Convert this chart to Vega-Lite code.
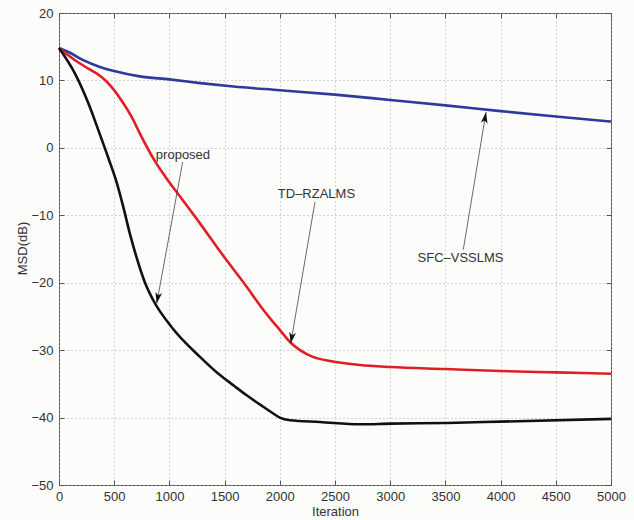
{
  "$schema": "https://vega.github.io/schema/vega-lite/v6.json",
  "width": 552,
  "height": 472,
  "autosize": "none",
  "padding": {"left": 59, "top": 13, "right": 23, "bottom": 35},
  "background": "#fcfcfa",
  "config": {
    "view": {"stroke": "#555", "strokeWidth": 1},
    "axis": {
      "labelFont": "Liberation Sans",
      "titleFont": "Liberation Sans",
      "labelFontSize": 13,
      "titleFontSize": 13,
      "labelColor": "#333",
      "titleColor": "#333",
      "titleFontWeight": "normal",
      "gridColor": "#aaa",
      "gridDash": [1, 3],
      "gridWidth": 1,
      "tickColor": "#555",
      "tickSize": -5,
      "domain": false,
      "labelFlush": false,
      "labelOverlap": false,
      "format": "d"
    }
  },
  "datasets": {
    "curves": [
      {"series": "SFC-VSSLMS", "iter": 0, "msd": 14.8},
      {"series": "SFC-VSSLMS", "iter": 100, "msd": 14.1},
      {"series": "SFC-VSSLMS", "iter": 220, "msd": 13.0},
      {"series": "SFC-VSSLMS", "iter": 370, "msd": 12.0},
      {"series": "SFC-VSSLMS", "iter": 500, "msd": 11.4},
      {"series": "SFC-VSSLMS", "iter": 730, "msd": 10.6},
      {"series": "SFC-VSSLMS", "iter": 1000, "msd": 10.15},
      {"series": "SFC-VSSLMS", "iter": 1280, "msd": 9.6},
      {"series": "SFC-VSSLMS", "iter": 1580, "msd": 9.1},
      {"series": "SFC-VSSLMS", "iter": 2000, "msd": 8.55},
      {"series": "SFC-VSSLMS", "iter": 2500, "msd": 7.9},
      {"series": "SFC-VSSLMS", "iter": 3000, "msd": 7.1},
      {"series": "SFC-VSSLMS", "iter": 3500, "msd": 6.3},
      {"series": "SFC-VSSLMS", "iter": 4000, "msd": 5.45},
      {"series": "SFC-VSSLMS", "iter": 4500, "msd": 4.65},
      {"series": "SFC-VSSLMS", "iter": 5000, "msd": 3.9},
      {"series": "TD-RZALMS", "iter": 0, "msd": 14.8},
      {"series": "TD-RZALMS", "iter": 145, "msd": 13.0},
      {"series": "TD-RZALMS", "iter": 266, "msd": 11.75},
      {"series": "TD-RZALMS", "iter": 386, "msd": 10.5},
      {"series": "TD-RZALMS", "iter": 477, "msd": 9.0},
      {"series": "TD-RZALMS", "iter": 568, "msd": 7.0},
      {"series": "TD-RZALMS", "iter": 658, "msd": 4.6},
      {"series": "TD-RZALMS", "iter": 749, "msd": 1.6},
      {"series": "TD-RZALMS", "iter": 870, "msd": -2.0},
      {"series": "TD-RZALMS", "iter": 960, "msd": -4.2},
      {"series": "TD-RZALMS", "iter": 1100, "msd": -7.3},
      {"series": "TD-RZALMS", "iter": 1277, "msd": -11.2},
      {"series": "TD-RZALMS", "iter": 1470, "msd": -15.6},
      {"series": "TD-RZALMS", "iter": 1700, "msd": -20.6},
      {"series": "TD-RZALMS", "iter": 1850, "msd": -24.0},
      {"series": "TD-RZALMS", "iter": 2000, "msd": -27.0},
      {"series": "TD-RZALMS", "iter": 2099, "msd": -28.9},
      {"series": "TD-RZALMS", "iter": 2183, "msd": -30.0},
      {"series": "TD-RZALMS", "iter": 2300, "msd": -31.0},
      {"series": "TD-RZALMS", "iter": 2455, "msd": -31.6},
      {"series": "TD-RZALMS", "iter": 2726, "msd": -32.2},
      {"series": "TD-RZALMS", "iter": 3000, "msd": -32.5},
      {"series": "TD-RZALMS", "iter": 3500, "msd": -32.8},
      {"series": "TD-RZALMS", "iter": 4000, "msd": -33.1},
      {"series": "TD-RZALMS", "iter": 4500, "msd": -33.3},
      {"series": "TD-RZALMS", "iter": 5000, "msd": -33.5},
      {"series": "proposed", "iter": 0, "msd": 14.8},
      {"series": "proposed", "iter": 145, "msd": 11.0},
      {"series": "proposed", "iter": 266, "msd": 6.6},
      {"series": "proposed", "iter": 357, "msd": 2.6},
      {"series": "proposed", "iter": 447, "msd": -1.5},
      {"series": "proposed", "iter": 520, "msd": -5.0},
      {"series": "proposed", "iter": 580, "msd": -8.6},
      {"series": "proposed", "iter": 640, "msd": -12.6},
      {"series": "proposed", "iter": 700, "msd": -16.1},
      {"series": "proposed", "iter": 779, "msd": -20.0},
      {"series": "proposed", "iter": 854, "msd": -22.6},
      {"series": "proposed", "iter": 1021, "msd": -26.6},
      {"series": "proposed", "iter": 1277, "msd": -31.0},
      {"series": "proposed", "iter": 1458, "msd": -33.7},
      {"series": "proposed", "iter": 1579, "msd": -35.2},
      {"series": "proposed", "iter": 1700, "msd": -36.7},
      {"series": "proposed", "iter": 1850, "msd": -38.4},
      {"series": "proposed", "iter": 1941, "msd": -39.4},
      {"series": "proposed", "iter": 2000, "msd": -40.0},
      {"series": "proposed", "iter": 2092, "msd": -40.4},
      {"series": "proposed", "iter": 2364, "msd": -40.65},
      {"series": "proposed", "iter": 2726, "msd": -41.0},
      {"series": "proposed", "iter": 3004, "msd": -40.9},
      {"series": "proposed", "iter": 3514, "msd": -40.8},
      {"series": "proposed", "iter": 4000, "msd": -40.6},
      {"series": "proposed", "iter": 5000, "msd": -40.2}
    ],
    "labels": [
      {"text": "proposed", "iter": 1123, "msd": -1.1},
      {"text": "TD\u2013RZALMS", "iter": 2332, "msd": -6.8},
      {"text": "SFC\u2013VSSLMS", "iter": 3637, "msd": -16.3}
    ],
    "arrows": [
      {"name": "proposed", "iter": 1120, "msd": -2.1, "iter2": 885, "msd2": -23.1},
      {"name": "TD", "iter": 2319, "msd": -8.0, "iter2": 2099, "msd2": -29.0},
      {"name": "SFC", "iter": 3662, "msd": -15.1, "iter2": 3868, "msd2": 5.3}
    ]
  },
  "resolve": {"axis": {"x": "independent", "y": "independent"}},
  "layer": [
    {
      "resolve": {"axis": {"x": "shared", "y": "shared"}},
      "layer": [
        {
          "data": {"name": "curves"},
          "mark": {"type": "line", "strokeWidth": 2.6, "interpolate": "monotone"},
          "encoding": {
            "x": {"field": "iter", "type": "quantitative",
                  "scale": {"domain": [0, 5000], "nice": false},
                  "axis": {"title": "Iteration", "values": [0,500,1000,1500,2000,2500,3000,3500,4000,4500,5000], "grid": true, "labelPadding": 10, "titleY": 30, "titleBaseline": "alphabetic"}},
            "y": {"field": "msd", "type": "quantitative",
                  "scale": {"domain": [-50, 20], "nice": false},
                  "axis": {"title": "MSD(dB)", "values": [-50,-40,-30,-20,-10,0,10,20], "grid": true, "labelPadding": 11, "titleX": -37, "titleY": 235, "titleBaseline": "middle"}},
            "color": {"field": "series", "type": "nominal",
                      "scale": {"domain": ["SFC-VSSLMS", "TD-RZALMS", "proposed"], "range": ["#2c3a9c", "#e01e26", "#111111"]},
                      "legend": null},
            "detail": {"field": "series"}
          }
        },
        {
          "data": {"name": "arrows"},
          "mark": {"type": "rule", "color": "#444", "strokeWidth": 0.8},
          "encoding": {
            "x": {"field": "iter", "type": "quantitative"},
            "y": {"field": "msd", "type": "quantitative"},
            "x2": {"field": "iter2"},
            "y2": {"field": "msd2"}
          }
        },
        {
          "data": {"name": "arrows"},
          "transform": [{"filter": "datum.name === 'proposed'"}],
          "mark": {"type": "point", "shape": "M0,0L-0.3,1L0,0.75L0.3,1Z", "size": 500, "filled": true, "color": "#111", "opacity": 1, "angle": 190.4},
          "encoding": {
            "x": {"field": "iter2", "type": "quantitative"},
            "y": {"field": "msd2", "type": "quantitative"}
          }
        },
        {
          "data": {"name": "arrows"},
          "transform": [{"filter": "datum.name === 'TD'"}],
          "mark": {"type": "point", "shape": "M0,0L-0.3,1L0,0.75L0.3,1Z", "size": 500, "filled": true, "color": "#111", "opacity": 1, "angle": 189.7},
          "encoding": {
            "x": {"field": "iter2", "type": "quantitative"},
            "y": {"field": "msd2", "type": "quantitative"}
          }
        },
        {
          "data": {"name": "arrows"},
          "transform": [{"filter": "datum.name === 'SFC'"}],
          "mark": {"type": "point", "shape": "M0,0L-0.3,1L0,0.75L0.3,1Z", "size": 500, "filled": true, "color": "#111", "opacity": 1, "angle": 9.4},
          "encoding": {
            "x": {"field": "iter2", "type": "quantitative"},
            "y": {"field": "msd2", "type": "quantitative"}
          }
        },
        {
          "data": {"name": "labels"},
          "mark": {"type": "text", "font": "Liberation Sans", "fontSize": 13, "color": "#333", "baseline": "middle", "align": "center"},
          "encoding": {
            "x": {"field": "iter", "type": "quantitative"},
            "y": {"field": "msd", "type": "quantitative"},
            "text": {"field": "text"}
          }
        }
      ]
    },
    {
      "data": {"name": "curves"},
      "mark": {"type": "point", "opacity": 0},
      "encoding": {
        "x": {"field": "iter", "type": "quantitative",
              "axis": {"orient": "top", "title": null, "labels": false, "grid": false, "values": [0,500,1000,1500,2000,2500,3000,3500,4000,4500,5000]}},
        "y": {"field": "msd", "type": "quantitative",
              "axis": {"orient": "right", "title": null, "labels": false, "grid": false, "values": [-50,-40,-30,-20,-10,0,10,20]}}
      }
    }
  ]
}
